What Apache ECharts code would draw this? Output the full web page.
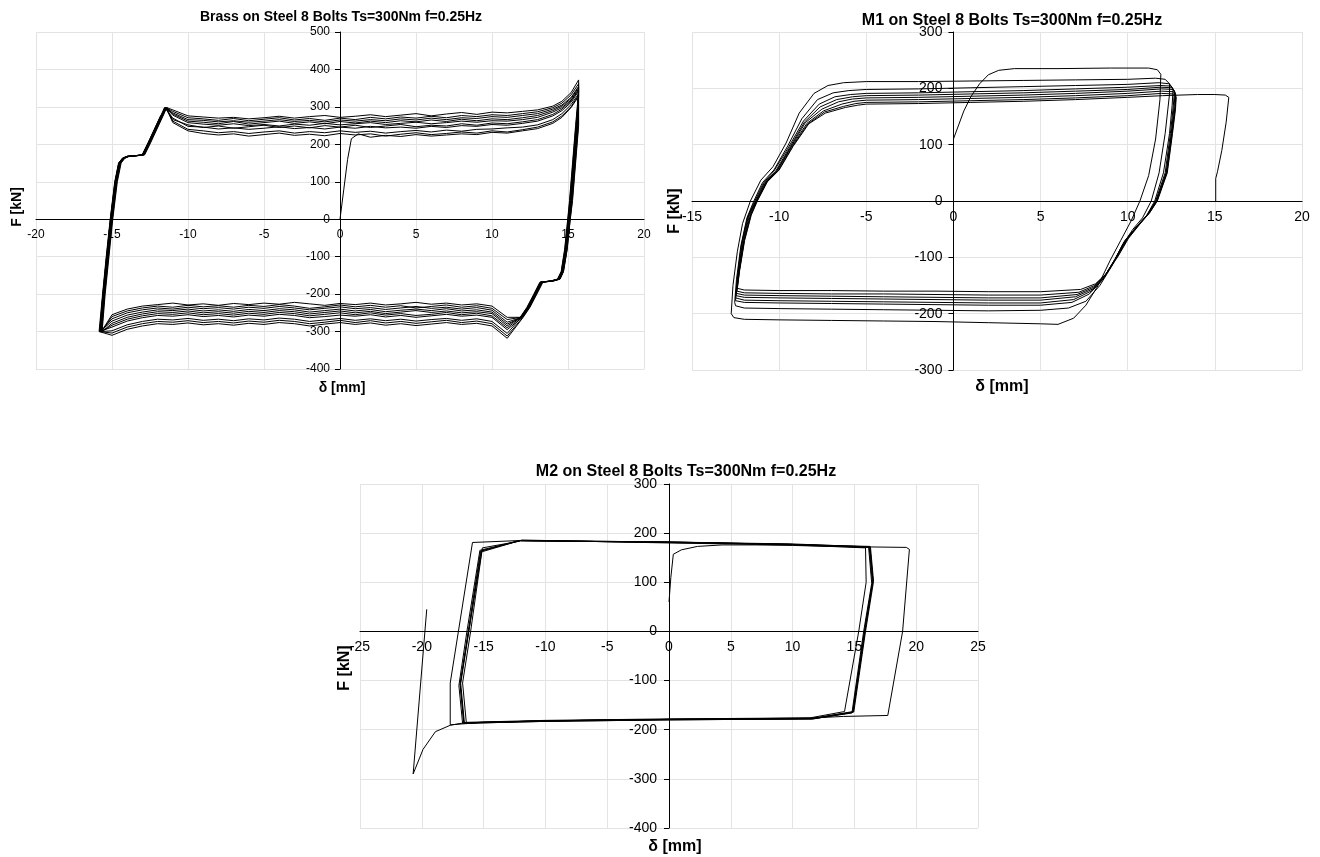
<!DOCTYPE html>
<html><head><meta charset="utf-8">
<script src="https://cdn.jsdelivr.net/npm/echarts@6/dist/echarts.min.js"></script>
<style>html,body{margin:0;padding:0;background:#fff}#c{width:1320px;height:857px}</style>
</head><body><div id="c"></div>
<script>
// ---------- Chart 1: Brass on Steel ----------
const brassInit = [[0,0],[0.25,80],[0.5,160],[0.75,215],[1.2,228]];
const brassUpX = [-11,-10,-9,-8,-7,-6,-5,-4,-3,-2,-1,0,1,2,3,4,5,6,7,8,9,10,11,12,13,14,14.6,15.2,15.7];
const brassUp1 = [255,232,226,222,219,224,220,223,218,222,225,220,223,219,224,221,226,222,225,228,226,232,230,236,242,256,272,298,328];
const brassUp2 = [262,240,236,231,234,229,233,236,230,234,231,236,232,235,230,234,237,233,238,235,240,241,244,246,252,266,282,306,335];
const brassUp3 = [270,248,246,241,244,240,243,247,242,245,241,246,243,248,244,246,243,248,245,250,248,253,251,256,262,276,290,312,342];
const brassUp4 = [278,258,254,251,255,250,253,249,254,251,256,252,255,258,253,256,259,255,258,262,259,263,262,266,272,286,298,318,348];
const brassUp5 = [284,266,264,260,263,259,262,266,261,264,260,265,262,266,263,268,265,270,266,271,269,274,272,277,282,294,305,325,355];
const brassUp6 = [292,276,273,270,272,268,271,275,270,274,277,272,275,279,274,278,282,276,281,285,280,286,284,288,292,302,315,338,372];
const brassUp7 = [258,236,229,225,228,222,226,230,224,227,223,229,225,228,222,227,231,226,229,233,230,236,233,239,246,260,276,300,332];
const brassUp8 = [266,252,245,249,243,247,251,245,249,244,250,246,251,245,249,253,247,251,249,255,251,257,255,260,266,280,294,316,345];
const brassUp9 = [281,262,259,255,261,254,258,262,256,260,255,261,257,262,258,263,260,265,261,267,263,268,266,271,277,290,302,322,352];
const brassUp10 = [288,271,268,264,269,263,267,271,265,269,264,270,266,272,268,273,270,275,271,277,274,279,277,282,287,298,310,332,362];
const brassRightF = [250,150,50,0,-80,-140,-160,-165,-168,-200,-235,-262];
const brassRight1 = [15.55,15.35,15.15,15.02,14.82,14.58,14.35,13.9,13.2,12.8,12.35,11.9];
const brassRight2 = [15.6,15.4,15.2,15.08,14.88,14.63,14.4,13.95,13.25,12.85,12.4,11.95];
const brassRight3 = [15.5,15.3,15.1,14.98,14.78,14.55,14.3,13.85,13.15,12.75,12.3,11.85];
const brassRight4 = [15.65,15.45,15.25,15.12,14.92,14.68,14.45,14.0,13.3,12.9,12.45,12.0];
const brassRight5 = [15.58,15.38,15.18,15.05,14.85,14.6,14.38,13.92,13.22,12.82,12.38,11.92];
const brassRight6 = [15.7,15.5,15.3,15.15,14.95,14.7,14.48,14.05,13.35,12.95,12.5,12.05];
const brassRight7 = [15.52,15.32,15.12,15.0,14.8,14.56,14.33,13.88,13.18,12.78,12.33,11.88];
const brassRight8 = [15.62,15.42,15.22,15.1,14.9,14.66,14.42,13.98,13.28,12.88,12.43,11.98];
const brassRight9 = [15.57,15.37,15.17,15.04,14.84,14.6,14.36,13.91,13.21,12.81,12.36,11.91];
const brassRight10 = [15.68,15.48,15.28,15.14,14.94,14.7,14.46,14.02,13.32,12.92,12.47,12.02];
const brassLoX = [11,10,9,8,7,6,5,4,3,2,1,0,-1,-2,-3,-4,-5,-6,-7,-8,-9,-10,-11,-12,-13,-14,-15];
const brassLo1 = [-262,-232,-226,-229,-224,-227,-222,-226,-229,-224,-228,-225,-230,-226,-222,-227,-224,-228,-225,-230,-226,-229,-224,-228,-232,-240,-255];
const brassLo2 = [-275,-243,-236,-240,-235,-238,-233,-237,-241,-236,-239,-234,-238,-242,-237,-233,-238,-235,-240,-236,-239,-235,-240,-237,-242,-250,-266];
const brassLo3 = [-285,-252,-247,-250,-245,-249,-244,-248,-252,-246,-250,-245,-249,-253,-247,-244,-249,-246,-251,-247,-250,-245,-249,-247,-253,-262,-278];
const brassLo4 = [-295,-262,-256,-259,-254,-258,-262,-257,-261,-255,-259,-256,-260,-263,-257,-254,-259,-256,-261,-257,-260,-255,-259,-257,-263,-272,-288];
const brassLo5 = [-305,-273,-266,-270,-265,-268,-272,-267,-271,-266,-270,-265,-269,-273,-267,-264,-269,-266,-271,-267,-270,-265,-269,-267,-273,-282,-298];
const brassLo6 = [-318,-285,-278,-281,-276,-280,-284,-279,-283,-277,-281,-276,-280,-285,-279,-276,-281,-278,-283,-279,-282,-277,-281,-279,-285,-294,-310];
const brassLo7 = [-268,-238,-231,-235,-229,-233,-237,-231,-235,-230,-234,-229,-234,-238,-232,-228,-233,-230,-235,-231,-234,-230,-235,-232,-237,-245,-260];
const brassLo8 = [-280,-248,-242,-245,-239,-244,-240,-243,-247,-241,-245,-240,-244,-248,-242,-239,-244,-241,-246,-242,-245,-240,-244,-242,-248,-256,-272];
const brassLo9 = [-290,-258,-251,-255,-249,-254,-257,-252,-256,-250,-255,-250,-254,-258,-252,-249,-254,-251,-256,-252,-255,-250,-254,-252,-258,-267,-283];
const brassLo10 = [-312,-279,-272,-276,-270,-274,-278,-273,-277,-271,-276,-270,-275,-279,-273,-270,-275,-272,-277,-273,-276,-271,-275,-273,-279,-288,-304];
const brassLeftF = [-300,-200,-100,0,100,150,163,168,170,172,205,240,275,298];
const brassLeft1 = [-15.7,-15.5,-15.25,-15.0,-14.7,-14.45,-14.2,-13.9,-13.3,-12.9,-12.5,-12.1,-11.7,-11.45];
const brassLeft2 = [-15.75,-15.55,-15.3,-15.05,-14.75,-14.5,-14.25,-13.95,-13.35,-12.95,-12.55,-12.15,-11.75,-11.5];
const brassLeft3 = [-15.65,-15.45,-15.2,-14.95,-14.65,-14.4,-14.15,-13.85,-13.25,-12.85,-12.45,-12.05,-11.65,-11.4];
const brassLeft4 = [-15.8,-15.6,-15.35,-15.1,-14.8,-14.55,-14.3,-14.0,-13.4,-13.0,-12.6,-12.2,-11.8,-11.55];
const brassLeft5 = [-15.72,-15.52,-15.28,-15.02,-14.72,-14.47,-14.22,-13.92,-13.32,-12.92,-12.52,-12.12,-11.72,-11.48];
const brassLeft6 = [-15.85,-15.62,-15.38,-15.12,-14.82,-14.57,-14.32,-14.02,-13.42,-13.02,-12.62,-12.22,-11.82,-11.35];
const brassLeft7 = [-15.68,-15.48,-15.23,-14.98,-14.68,-14.43,-14.18,-13.88,-13.28,-12.88,-12.48,-12.08,-11.68,-11.42];
const brassLeft8 = [-15.78,-15.58,-15.33,-15.08,-14.78,-14.53,-14.28,-13.98,-13.38,-12.98,-12.58,-12.18,-11.78,-11.52];
const brassLeft9 = [-15.7,-15.5,-15.26,-15.01,-14.71,-14.46,-14.21,-13.91,-13.31,-12.91,-12.51,-12.11,-11.71,-11.46];
const brassLeft10 = [-15.82,-15.6,-15.36,-15.1,-14.8,-14.55,-14.3,-14.0,-13.4,-13.0,-12.6,-12.2,-11.8,-11.4];

// ---------- Chart 2: M1 on Steel ----------
const m1Init = [[0,110],[0.3,135],[0.6,160],[1.0,185],[1.5,208],[2.0,224],[2.6,232],[3.5,235],[6,235],[9,236],[11.2,236],[11.7,233],[11.9,225],[11.85,180],[11.6,110],[11.2,45],[10.7,0],[10.2,-35],[9.6,-70],[9.0,-105],[8.3,-150],[7.6,-185],[6.9,-208],[6.0,-219],[5,-218],[2,-216],[-1,-214],[-4,-213],[-7,-212],[-10,-211],[-12,-210],[-12.6,-207]];
const m1LoopA = [[-12.75,-200],[-12.65,-150],[-12.4,-90],[-12.1,-40],[-11.65,0],[-11.05,37],[-10.35,61],[-9.6,103],[-8.85,156],[-8.0,191],[-7.2,205],[-6.3,210],[-5,212],[-2,212],[1,213],[4,214],[7,215],[10,216],[11.6,218],[12.15,216],[12.4,208],[12.4,190],[12.15,120],[11.8,50],[11.35,0],[10.85,-30],[10.3,-50],[9.7,-78],[9.1,-115],[8.4,-150],[7.6,-178],[6.6,-190],[5,-194],[2,-195],[-1,-194],[-4,-193],[-7,-192],[-10,-191],[-12,-190],[-12.5,-186]];
const m1LoopB = [[-12.55,-180],[-12.45,-140],[-12.2,-80],[-11.85,-30],[-11.45,0],[-10.95,33],[-10.3,55],[-9.5,98],[-8.7,146],[-7.8,180],[-6.9,192],[-6.0,196],[-5,198],[-2,199],[1,201],[4,203],[7,205],[10,207],[11.8,210],[12.4,208],[12.6,198],[12.55,170],[12.4,120],[12.05,50],[11.55,0],[11.05,-28],[10.45,-48],[9.8,-72],[9.2,-108],[8.5,-142],[7.8,-165],[6.8,-180],[5,-185],[2,-185],[-1,-184],[-4,-183],[-7,-182],[-10,-181],[-12,-180],[-12.5,-177]];
const m1LoopC = [[-12.5,-175],[-12.4,-135],[-12.15,-75],[-11.8,-28],[-11.4,0],[-10.9,32],[-10.3,53],[-9.45,96],[-8.6,142],[-7.7,172],[-6.8,185],[-5.9,189],[-5,191],[-2,192],[1,194],[4,196],[7,199],[10,202],[11.9,205],[12.5,204],[12.68,195],[12.62,170],[12.45,120],[12.15,50],[11.6,0],[11.1,-25],[10.5,-46],[9.85,-70],[9.25,-104],[8.6,-138],[7.9,-160],[6.9,-175],[5,-181],[2,-181],[-1,-180],[-4,-179],[-7,-178],[-10,-177],[-12,-176],[-12.5,-172]];
const m1LoopD = [[-12.47,-171],[-12.35,-130],[-12.1,-72],[-11.75,-26],[-11.35,0],[-10.85,32],[-10.2,53],[-9.4,95],[-8.55,140],[-7.65,167],[-6.7,180],[-5.8,185],[-5,187],[-2,188],[1,190],[4,192],[7,195],[10,198],[11.9,202],[12.55,201],[12.72,193],[12.66,168],[12.5,120],[12.2,50],[11.63,0],[11.15,-24],[10.55,-44],[9.9,-69],[9.3,-102],[8.65,-135],[8.0,-156],[7.0,-170],[5,-176],[2,-176],[-1,-175],[-4,-174],[-7,-173],[-10,-172],[-12,-171],[-12.48,-168]];
const m1LoopE = [[-12.45,-167],[-12.33,-128],[-12.05,-70],[-11.7,-25],[-11.32,0],[-10.8,32],[-10.15,53],[-9.35,95],[-8.5,139],[-7.55,163],[-6.6,176],[-5.8,181],[-5,183],[-2,184],[1,186],[4,188],[7,191],[10,195],[11.95,199],[12.6,198],[12.75,190],[12.7,166],[12.52,120],[12.22,50],[11.66,0],[11.2,-22],[10.6,-43],[9.95,-68],[9.35,-100],[8.7,-132],[8.05,-153],[7.1,-166],[5,-172],[2,-172],[-1,-171],[-4,-170],[-7,-169],[-10,-168],[-12,-167],[-12.45,-164]];
const m1LoopF = [[-12.43,-163],[-12.3,-126],[-12.02,-70],[-11.65,-25],[-11.3,0],[-10.75,33],[-10.1,54],[-9.3,96],[-8.4,138],[-7.45,160],[-6.4,172],[-5.7,177],[-5,179],[-2,180],[1,182],[4,184],[7,187],[10,191],[11.95,195],[12.62,194],[12.77,187],[12.72,164],[12.55,120],[12.25,50],[11.68,0],[11.25,-21],[10.65,-42],[10.0,-67],[9.4,-99],[8.75,-130],[8.1,-150],[7.2,-162],[5,-167],[2,-167],[-1,-166],[-4,-165],[-7,-165],[-10,-164],[-12,-163],[-12.42,-160]];
const m1LoopG = [[-12.4,-158],[-12.28,-124],[-12.0,-70],[-11.62,-25],[-11.27,0],[-10.7,34],[-10.05,54],[-9.25,96],[-8.35,137],[-7.4,158],[-6.3,168],[-5.6,173],[-5,175],[-2,176],[1,178],[4,180],[7,183],[10,187],[11.95,191],[12.63,190],[12.78,184],[12.74,162],[12.57,120],[12.27,50],[11.7,0],[11.28,-20],[10.7,-41],[10.05,-66],[9.45,-98],[8.8,-128],[8.15,-147],[7.3,-157],[5,-161],[2,-161],[-1,-160],[-4,-160],[-7,-159],[-10,-159],[-12,-158],[-12.4,-155]];
const m1Final = [[-12.38,-153],[-12.26,-122],[-11.98,-70],[-11.6,-25],[-11.25,0],[-10.68,34],[-10.0,55],[-9.2,97],[-8.3,137],[-7.35,156],[-6.2,166],[-5.5,170],[-5,172],[-2,173],[1,175],[4,177],[7,180],[10,184],[12,187],[13,188],[14,189],[15,189],[15.6,188],[15.8,184],[15.65,140],[15.4,90],[15.15,52],[15.05,40],[15.05,0]];

// ---------- Chart 3: M2 on Steel ----------
const m2Init = [[0,60],[0.15,110],[0.35,157],[1,166],[2.3,173],[4.3,176],[7,176],[10,175],[13,173],[16,172],[19.2,171],[19.45,167],[18.9,0],[17.7,-171],[14.1,-173],[11.6,-176],[5,-178],[0,-179],[-5,-180],[-10,-182],[-15,-185],[-17.7,-190],[-17.7,-105],[-15.9,181],[-12,185]];
const m2Loop1 = [[0,181],[10,177],[16.25,173],[16.5,104],[15.85,0],[14.9,-163],[11.6,-177],[0,-179],[-10,-182],[-16.6,-186],[-16.9,-108],[-16.25,0],[-15.25,163],[-12.1,185]];
const m2Loop2 = [[0,182],[10,177],[16.2,171],[16.45,100],[15.8,0],[14.85,-165],[11.5,-178],[0,-180],[-10,-183],[-16.55,-187],[-16.85,-106],[-16.2,0],[-15.15,162],[-11.9,186]];
const m2Loop3 = [[0,180],[10,176],[15.9,170],[15.95,100],[15.35,0],[14.2,-163],[11.4,-176],[0,-178],[-10,-181],[-16.4,-185],[-16.7,-105],[-16.05,0],[-15.1,170],[-12,184]];
const m2Loop4 = [[0,182],[10,178],[16.3,172],[16.55,102],[15.9,0],[14.95,-164],[11.7,-178],[0,-180],[-10,-183],[-16.7,-187],[-17.0,-110],[-16.35,0],[-15.3,165],[-12.05,185]];
const m2Loop5 = [[0,181],[10,177],[16.15,171],[16.4,98],[15.75,0],[14.8,-166],[11.6,-178],[0,-179],[-10,-182],[-16.6,-186],[-16.9,-107],[-16.2,0],[-15.2,164],[-12,185]];
const m2Final = [[0,182],[10,177],[16.25,172],[16.5,103],[15.85,0],[14.9,-164],[11.6,-177],[0,-179],[-10,-182],[-16.6,-186],[-17.7,-191],[-18.9,-204],[-19.9,-240],[-20.7,-290],[-19.6,45]];

// ---------- Axis tick settings ----------
const ticks1 = {xMin:-20, xMax:20, xStep:5, yMin:-400, yMax:500, yStep:100};
const ticks2 = {xMin:-15, xMax:20, xStep:5, yMin:-300, yMax:300, yStep:100};
const ticks3 = {xMin:-25, xMax:25, xStep:5, yMin:-400, yMax:300, yStep:100};
const titles = ['Brass on Steel 8 Bolts Ts=300Nm f=0.25Hz','M1 on Steel 8 Bolts Ts=300Nm f=0.25Hz','M2 on Steel 8 Bolts Ts=300Nm f=0.25Hz'];
const xTitle = 'δ [mm]';
const yTitle = 'F [kN]';

// ---------- assemble ----------
function pairs(xs, ys){ return xs.map((x,i)=>[x, ys[i]]); }
const brassUps = [brassUp1,brassUp7,brassUp2,brassUp8,brassUp3,brassUp9,brassUp4,brassUp5,brassUp10,brassUp6];
const brassRights = [brassRight1,brassRight7,brassRight2,brassRight8,brassRight3,brassRight9,brassRight4,brassRight5,brassRight10,brassRight6];
const brassLos = [brassLo1,brassLo7,brassLo2,brassLo8,brassLo3,brassLo9,brassLo4,brassLo5,brassLo10,brassLo6];
const brassLefts = [brassLeft1,brassLeft7,brassLeft2,brassLeft8,brassLeft3,brassLeft9,brassLeft4,brassLeft5,brassLeft10,brassLeft6];
let brassData = brassInit.slice();
for (let k=0;k<brassUps.length;k++){
  let up = pairs(brassUpX, brassUps[k]);
  if (k===0) up = up.filter(p=>p[0]>=2);
  brassData = brassData.concat(up, pairs(brassRights[k], brassRightF), pairs(brassLoX, brassLos[k]), pairs(brassLefts[k], brassLeftF));
}
const m1Data = [].concat(m1Init,m1LoopA,m1LoopB,m1LoopC,m1LoopD,m1LoopE,m1LoopF,m1LoopG,m1Final);
const m2Data = [].concat(m2Init,m2Loop1,m2Loop2,m2Loop3,m2Loop4,m2Loop5,m2Final);

const FONT = '"Liberation Sans", Arial, Helvetica, sans-serif';
const grids = [
  {left:36, top:32, width:608, height:337},
  {left:692, top:32, width:610, height:338},
  {left:360, top:484, width:618, height:344}
];
// axes drawn through the origin: shift the bottom/left axes into the plot by the zero position
function mkX(g,t,fs,margin){
  const off = -grids[g].height * (0 - t.yMin) / (t.yMax - t.yMin);
  return {type:'value', gridIndex:g, min:t.xMin, max:t.xMax, interval:t.xStep, position:'bottom', offset:off,
    axisLine:{show:true,onZero:false,lineStyle:{color:'#000',width:1}},
    axisTick:{show:false},
    axisLabel:{color:'#000',fontSize:fs,fontFamily:FONT,margin:margin,showMinLabel:true,showMaxLabel:true},
    splitLine:{show:true,lineStyle:{color:'#e3e3e3',width:1}}};
}
function mkY(g,t,fs,margin){
  const off = -grids[g].width * (0 - t.xMin) / (t.xMax - t.xMin);
  return {type:'value', gridIndex:g, min:t.yMin, max:t.yMax, interval:t.yStep, position:'left', offset:off,
    axisLine:{show:true,onZero:false,lineStyle:{color:'#000',width:1}},
    axisTick:{show:true,inside:false,length:5,lineStyle:{color:'#000',width:1}},
    axisLabel:{color:'#000',fontSize:fs,fontFamily:FONT,margin:margin,showMinLabel:true,showMaxLabel:true},
    splitLine:{show:true,lineStyle:{color:'#e3e3e3',width:1}}};
}
function mkSeries(i,data){
  return {type:'line', xAxisIndex:i, yAxisIndex:i, data:data, showSymbol:false, symbol:'none',
    lineStyle:{color:'#000',width:1}, silent:true, animation:false};
}
function txt(x,y,text,fs,rot){
  return {type:'text', x:x, y:y, rotation:rot||0,
    style:{text:text, font:'bold '+fs+'px '+FONT, fill:'#000',
      align:'center', verticalAlign:'middle', textAlign:'center', textVerticalAlign:'middle'}};
}

const chart = echarts.init(document.getElementById('c'), null, {renderer:'canvas', width:1320, height:857});
chart.setOption({
  animation:false,
  backgroundColor:'#fff',
  grid:grids,
  xAxis:[mkX(0,ticks1,12,9), mkX(1,ticks2,14,9), mkX(2,ticks3,14,9)],
  yAxis:[mkY(0,ticks1,12,10), mkY(1,ticks2,14,11), mkY(2,ticks3,14,12)],
  series:[mkSeries(0,brassData), mkSeries(1,m1Data), mkSeries(2,m2Data)],
  graphic:[
    txt(341,17,titles[0],14), txt(1012,21,titles[1],16), txt(686,472,titles[2],16),
    txt(342,388,xTitle,14), txt(1002,387,xTitle,16), txt(675,847,xTitle,16),
    txt(17,207,yTitle,14,Math.PI/2), txt(675,211,yTitle,16,Math.PI/2), txt(345,668,yTitle,16,Math.PI/2)
  ]
});
</script></body></html>
